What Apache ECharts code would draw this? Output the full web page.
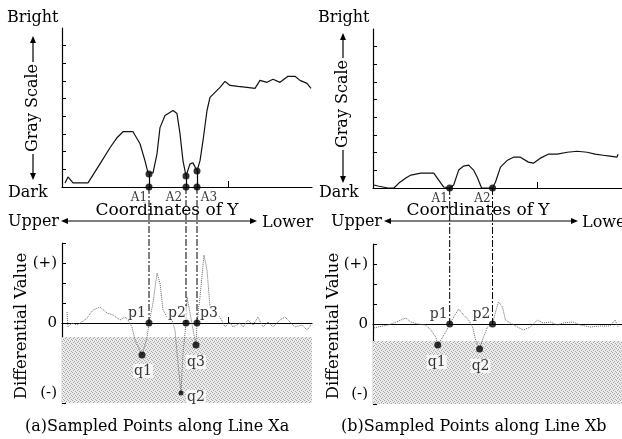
<!DOCTYPE html>
<html>
<head>
<meta charset="utf-8">
<script src="https://cdn.jsdelivr.net/npm/echarts@6/dist/echarts.min.js"></script>
<style>
  html, body { margin: 0; padding: 0; background: #fff; }
  #chart { width: 622px; height: 439px; }
</style>
</head>
<body>
<div id="chart"></div>
<script>
// gray scale along line Xa / Xb  [position along Y, gray level]
const grayA = [
  [3, 4.6], [6, 11.4], [11, 4.6], [26, 4.6], [38, 26.2], [48, 44.4], [55, 55.8], [61, 62.6],
  [71, 62.6], [78, 49], [83, 29.6], [86, 16], [87, 14.8], [91, 16], [95, 37.6], [98, 67.2],
  [103, 80.9], [111, 86.6], [115, 83.1], [118, 60.4], [121, 29.6], [124, 12.5], [128, 26.2],
  [131, 27.3], [135, 18.2], [138, 29.6], [141, 52.4], [145, 86.6], [148, 101.4], [158, 112.8],
  [163, 119.6], [168, 115], [176, 113.9], [185, 112.8], [193, 111.6], [198, 120.7], [205, 118.5],
  [211, 121.9], [218, 118.5], [226, 125.3], [233, 125.3], [238, 120.7], [245, 117.3], [249, 111.6]
]
const grayB = [
  [1, 3.4], [5, 2.3], [15, 0], [21, 0], [26, 5.6], [33, 11.3], [38, 14.6], [48, 16.9],
  [61, 16.9], [66, 9], [71, 1.1], [77, 0], [81, 3.4], [86, 20.3], [91, 24.8], [96, 25.9],
  [101, 20.3], [105, 11.3], [109, 0], [115, 0], [120, 0], [123, 6.8], [128, 23.6], [135, 31.5],
  [141, 34.9], [148, 34.9], [156, 29.3], [161, 28.1], [168, 33.8], [176, 38.3], [185, 38.3],
  [195, 40.5], [205, 41.6], [215, 40.5], [223, 38.3], [231, 37.1], [238, 36], [245, 34.9], [246, 38.3]
]

// differential value along the same lines
const diffA = [
  [5, 0.55], [6, -0.2], [10, 0], [15, -0.1], [20, 0.05], [25, 0.25], [31, 0.65], [38, 0.8],
  [45, 0.5], [51, 0.4], [58, 0.15], [63, 0.3], [66, 0.15], [70, -0.2], [73, -0.85], [80, -1.6],
  [85, -0.75], [87, 0], [91, 1.0], [95, 2.5], [98, 2.0], [101, 0.65], [105, 0.3], [110, 0.15],
  [113, -0.35], [115, -1.5], [119, -3.5], [121, -1.5], [124, 0], [125, 1.3], [128, 0.5],
  [132, -0.6], [134, -1.1], [135, 0], [138, 1.3], [142, 3.4], [145, 2.65], [148, 0.8], [153, 0.5],
  [158, 0.3], [163, -0.2], [168, 0.05], [171, -0.2], [178, 0], [181, -0.2], [186, 0.15],
  [191, -0.1], [196, 0.3], [201, -0.2], [206, 0.05], [211, -0.2], [218, 0.15], [223, 0.3],
  [228, 0.05], [233, -0.2], [240, -0.1], [245, -0.35], [249, -0.1]
]
const diffB = [
  [1, -0.2], [5, -0.15], [15, -0.05], [21, 0.05], [28, 0.2], [33, 0.3], [38, 0.1], [45, 0],
  [53, -0.05], [58, -0.3], [63, -0.65], [65, -1.05], [70, -0.65], [73, -0.4], [77, 0], [81, 0.35],
  [86, 0.75], [91, 0.45], [96, 0.2], [100, -0.15], [103, -0.8], [107, -1.25], [111, -0.65],
  [115, -0.15], [120, 0], [123, 0.6], [126, 1.1], [130, 0.85], [133, 0.2], [138, 0.05],
  [145, -0.15], [151, -0.3], [158, -0.15], [165, 0.2], [171, 0.05], [178, 0.1], [185, -0.05],
  [191, 0.05], [201, 0.1], [208, -0.05], [218, -0.15], [228, -0.1], [238, -0.1], [243, 0.2], [246, -0.15]
]

// edge points (A / p) and minima (q)
const edgesA = [87, 124, 135]
const edgesB = [77, 120]
const minimaA = [80, 119, 134]
const minimaB = [65, 107]
const thresholdA = -0.7
const thresholdB = -0.85

const FONT = 'DejaVu Serif'

function valueAt(curve, x) {
  const p = curve.find(d => d[0] === x)
  return p ? p[1] : 0
}

// halftone pattern for the shaded band
const tex = document.createElement('canvas')
tex.width = 4
tex.height = 4
const tctx = tex.getContext('2d')
tctx.fillStyle = '#ebebeb'
tctx.fillRect(0, 0, 4, 4)
tctx.fillStyle = '#a6a6a6'
;[[0, 0], [2, 1], [1, 2], [3, 3]].forEach(p => tctx.fillRect(p[0], p[1], 1, 1))

const grids = [
  { left: 62, top: 28, width: 250, height: 159 },   // gray A
  { left: 373, top: 29, width: 250, height: 159 },  // gray B
  { left: 62, top: 243, width: 250, height: 160 },  // diff A
  { left: 373, top: 244, width: 250, height: 160 }, // diff B
  { left: 62, top: 187, width: 250, height: 136 },  // link A
  { left: 373, top: 188, width: 250, height: 136 }  // link B
]

const axisLine = { show: true, lineStyle: { color: '#000', width: 1.2 } }

const xAxes = grids.map((g, i) => ({
  type: 'value', gridIndex: i, min: 0, max: 250, show: i < 4,
  axisLine: axisLine,
  axisLabel: { show: false },
  splitLine: { show: false },
  axisTick: {
    show: i !== 3, inside: true, length: 6,
    customValues: [i === 1 ? 165 : 166],
    lineStyle: { color: '#000' }
  }
}))

const grayY = i => ({
  type: 'value', gridIndex: i, min: 0, max: 180, interval: 20,
  axisLine: axisLine, splitLine: { show: false }, axisLabel: { show: false },
  axisTick: { inside: true, length: 4, customValues: [20, 40, 60, 80, 100, 120, 140, 160], lineStyle: { color: '#000' } }
})
const diffY = i => ({
  type: 'value', gridIndex: i, min: -4, max: 4, interval: 1,
  axisLine: axisLine, splitLine: { show: false },
  axisTick: { inside: true, length: 4, lineStyle: { color: '#000' } },
  axisLabel: {
    customValues: [3, 0, -3.5], margin: 5, color: '#000', fontFamily: FONT, fontSize: 15,
    formatter: v => (v > 0 ? '(+)' : v < 0 ? '(-)' : '0')
  }
})
const yAxes = [
  grayY(0), grayY(1), diffY(2), diffY(3),
  { type: 'value', gridIndex: 4, min: 0, max: 1, show: false },
  { type: 'value', gridIndex: 5, min: 0, max: 1, show: false }
]

const dotLabel = (text, off, size) => ({
  show: true, position: 'inside', offset: off, formatter: text,
  color: '#000', fontFamily: FONT, fontSize: size || 14,
  backgroundColor: '#fff', padding: [0, 1]
})

// label offsets (pixels) for each dot
const aOffA = [[-10, 11], [-12, 11], [12, 11]]
const aOffB = [[-10, 11], [-10, 11]]
const pOffA = [[-12, -10], [-9, -10], [12, -10]]
const pOffB = [[-11, -10], [-11, -10]]
const qOffA = [[1, 16], [15, 4], [0, 17]]
const qOffB = [[-1, 17], [1, 17]]

const series = []

function panel(gi, di, li, gray, diff, edges, minima, thr, aOff, pOff, qOff) {
  series.push({
    type: 'line', xAxisIndex: gi, yAxisIndex: gi, data: gray, showSymbol: false,
    lineStyle: { color: '#111', width: 1.2 }, silent: true,
    markLine: {
      silent: true, symbol: 'none', label: { show: false },
      lineStyle: { color: '#000', type: 'solid', width: 1.2 },
      data: edges.filter(x => valueAt(gray, x) > 0).map(x => [{ coord: [x, 0] }, { coord: [x, valueAt(gray, x)] }])
    }
  })
  // dots on gray curve and on baseline
  series.push({
    type: 'scatter', xAxisIndex: gi, yAxisIndex: gi, symbolSize: 7,
    itemStyle: { color: '#000' }, silent: true,
    data: edges.filter(x => valueAt(gray, x) > 0).map(x => [x, valueAt(gray, x)])
  })
  series.push({
    type: 'scatter', xAxisIndex: gi, yAxisIndex: gi, symbolSize: 7,
    itemStyle: { color: '#000' }, silent: true,
    data: edges.map((x, k) => ({ value: [x, 0], label: dotLabel('A' + (k + 1), aOff[k], 12) }))
  })
  series.push({
    type: 'line', xAxisIndex: di, yAxisIndex: di, data: diff, showSymbol: false,
    lineStyle: { color: '#666', width: 1, type: 'dotted' }, silent: true, z: 3,
    markArea: {
      silent: true,
      itemStyle: { color: { image: tex, repeat: 'repeat' } },
      data: [[{ yAxis: thr }, { yAxis: -4 }]]
    }
  })
  series.push({
    type: 'scatter', xAxisIndex: di, yAxisIndex: di, symbolSize: 7, z: 5,
    itemStyle: { color: '#000' }, silent: true,
    data: edges.map((x, k) => ({ value: [x, 0], label: dotLabel('p' + (k + 1), pOff[k]) }))
  })
  series.push({
    type: 'scatter', xAxisIndex: di, yAxisIndex: di, z: 5,
    itemStyle: { color: '#000' }, silent: true,
    symbolSize: (v) => (v[1] < -3 ? 5 : 7),
    data: minima.map((x, k) => ({ value: [x, valueAt(diff, x)], label: dotLabel('q' + (k + 1), qOff[k]) }))
  })
  // dash-dot link lines from A to p
  edges.forEach(x => {
    series.push({
      type: 'line', xAxisIndex: li, yAxisIndex: li, data: [[x, 1], [x, 0]], showSymbol: false,
      lineStyle: { color: '#000', width: 1, type: [7, 2, 2, 2] }, silent: true
    })
  })
}

panel(0, 2, 4, grayA, diffA, edgesA, minimaA, thresholdA, aOffA, pOffA, qOffA)
panel(1, 3, 5, grayB, diffB, edgesB, minimaB, thresholdB, aOffB, pOffB, qOffB)

// texts and arrows
const txt = (text, x, y, opt) => Object.assign({
  type: 'text', x: x, y: y, silent: true,
  style: Object.assign({ text: text, fill: '#000', font: '16px "' + FONT + '"', align: 'left', verticalAlign: 'middle' }, (opt || {}).style)
}, opt ? { rotation: opt.rotation || 0 } : {})

function head(x, y, dir) {
  // dir: 'up' | 'down' | 'left' | 'right'
  const s = 7, w = 3
  const pts = {
    up: [[x, y], [x - w, y + s], [x + w, y + s]],
    down: [[x, y], [x - w, y - s], [x + w, y - s]],
    left: [[x, y], [x + s, y - w], [x + s, y + w]],
    right: [[x, y], [x - s, y - w], [x - s, y + w]]
  }[dir]
  return { type: 'polygon', silent: true, shape: { points: pts }, style: { fill: '#000' } }
}
const seg = (x1, y1, x2, y2) => ({ type: 'line', silent: true, shape: { x1, y1, x2, y2 }, style: { stroke: '#000', lineWidth: 1.2 } })

function labels(dx, cx, coordX, upperR, arrowL, arrowR, lowerL, grayMid, upTip, dnTip, diffX) {
  return [
    txt('Bright', 7 + dx, 18),
    txt('Dark', 8 + dx, 193),
    txt('Gray Scale', cx, grayMid, { rotation: Math.PI / 2, style: { align: 'center' } }),
    seg(cx, grayMid - 46, cx, upTip + 4), head(cx, upTip, 'up'),
    seg(cx, grayMid + 46, cx, dnTip - 4), head(cx, dnTip, 'down'),
    txt('Upper', upperR, 222, { style: { align: 'right' } }),
    txt('Coordinates of Y', coordX, 211, { style: { align: 'center', font: '17px "' + FONT + '"' } }),
    txt('Lower', lowerL, 223),
    seg(arrowL + 4, 221, arrowR - 4, 221), head(arrowL, 221, 'left'), head(arrowR, 221, 'right'),
    txt('Differential Value', diffX, 326, { rotation: Math.PI / 2, style: { align: 'center', font: '16.5px "' + FONT + '"' } })
  ]
}

const graphic = [].concat(
  labels(0, 33, 167, 59, 61, 257, 262, 108, 36, 180, 22),
  labels(311, 343, 478, 382, 384, 578, 582, 104, 33, 183, 334),
  [
    txt('(a)Sampled Points along Line Xa', 25, 427),
    txt('(b)Sampled Points along Line Xb', 341, 427)
  ]
)

const myChart = echarts.init(document.getElementById('chart'))
myChart.setOption({
  animation: false,
  backgroundColor: '#fff',
  grid: grids,
  xAxis: xAxes,
  yAxis: yAxes,
  series: series,
  graphic: graphic
})
</script>
</body>
</html>
